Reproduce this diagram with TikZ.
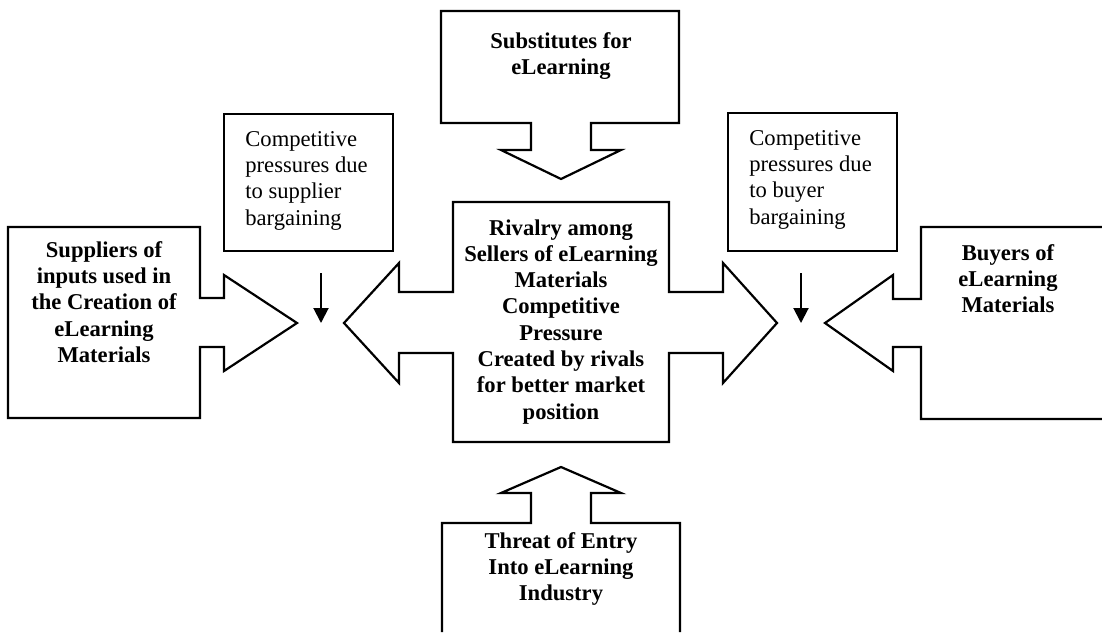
\documentclass[tikz,border=0pt]{standalone}
\usepackage{fontspec}
\setmainfont{Liberation Serif}
\usetikzlibrary{arrows.meta}

\begin{document}
\begin{tikzpicture}[x=0.5pt, y=-0.5pt,
    callout/.style={line width=1.1pt, line join=miter},
    forcetext/.style={inner sep=0, anchor=north, align=center,
      font=\bfseries\fontsize{11.3}{13.15}\selectfont},
    notetext/.style={inner sep=0, anchor=north west, align=left,
      font=\fontsize{11.3}{13.15}\selectfont},
    pressure/.style={line width=1pt, -{Triangle[width=7.5pt, length=7.5pt]}}]
      \useasboundingbox (0, 0) rectangle (1102, 632);
      % suppliers
      \draw[callout] (8, 227) -- (200, 227) -- (200, 298) -- (224, 298) -- (224, 275) -- (297, 323)
        -- (224, 371) -- (224, 347) -- (200, 347) -- (200, 418) -- (8, 418) -- cycle;
      % rivalry
      \draw[callout] (453, 202) -- (669, 202) -- (669, 292) -- (723, 292) -- (723, 263) -- (777, 323)
        -- (723, 383) -- (723, 353) -- (669, 353) -- (669, 442) -- (453, 442) -- (453, 353)
        -- (399, 353) -- (399, 383) -- (344, 323) -- (399, 263) -- (399, 292) -- (453, 292) -- cycle;
      % buyers
      \draw[callout] (1103, 227) -- (921, 227) -- (921, 299) -- (893, 299) -- (893, 275) -- (825, 323)
        -- (893, 371) -- (893, 347) -- (921, 347) -- (921, 419) -- (1103, 419);
      % substitutes
      \draw[callout] (441, 11) -- (679, 11) -- (679, 123) -- (591, 123) -- (591, 150) -- (621, 150)
        -- (561, 179) -- (501, 150) -- (531, 150) -- (531, 123) -- (441, 123) -- cycle;
      % entry
      \draw[callout] (442, 632) -- (442, 523) -- (531, 523) -- (531, 493) -- (501, 493) -- (561, 467)
        -- (621, 493) -- (591, 493) -- (591, 523) -- (680, 523) -- (680, 632);
      % bargaining notes
      \draw[callout] (224, 114) rectangle (393, 251);
      \draw[callout] (728, 113) rectangle (897, 251);

      \node[forcetext] (suppliers) at (104, 241) {Suppliers of\\inputs used in\\the Creation of\\eLearning\\Materials};
      \node[forcetext] (rivalry) at (561, 219) {Rivalry among\\Sellers of eLearning\\Materials\\Competitive\\Pressure\\Created by rivals\\for better market\\position};
      \node[forcetext] (buyers) at (1008, 244) {Buyers of\\eLearning\\Materials};
      \node[forcetext] (substitutes) at (561, 32) {Substitutes for\\eLearning};
      \node[forcetext] (entry) at (561, 532) {Threat of Entry\\Into eLearning\\Industry};
      \node[notetext] (supnote) at (245, 131) {Competitive\\pressures due\\to supplier\\bargaining};
      \node[notetext] (buynote) at (749, 130) {Competitive\\pressures due\\to buyer\\bargaining};

      \coordinate (supTop) at (321, 273);
      \coordinate (supEnd) at (321, 323);
      \coordinate (buyTop) at (801, 273);
      \coordinate (buyEnd) at (801, 323);
      \draw[pressure] (supTop) -- (supEnd);
      \draw[pressure] (buyTop) -- (buyEnd);
    \end{tikzpicture}
\end{document}
